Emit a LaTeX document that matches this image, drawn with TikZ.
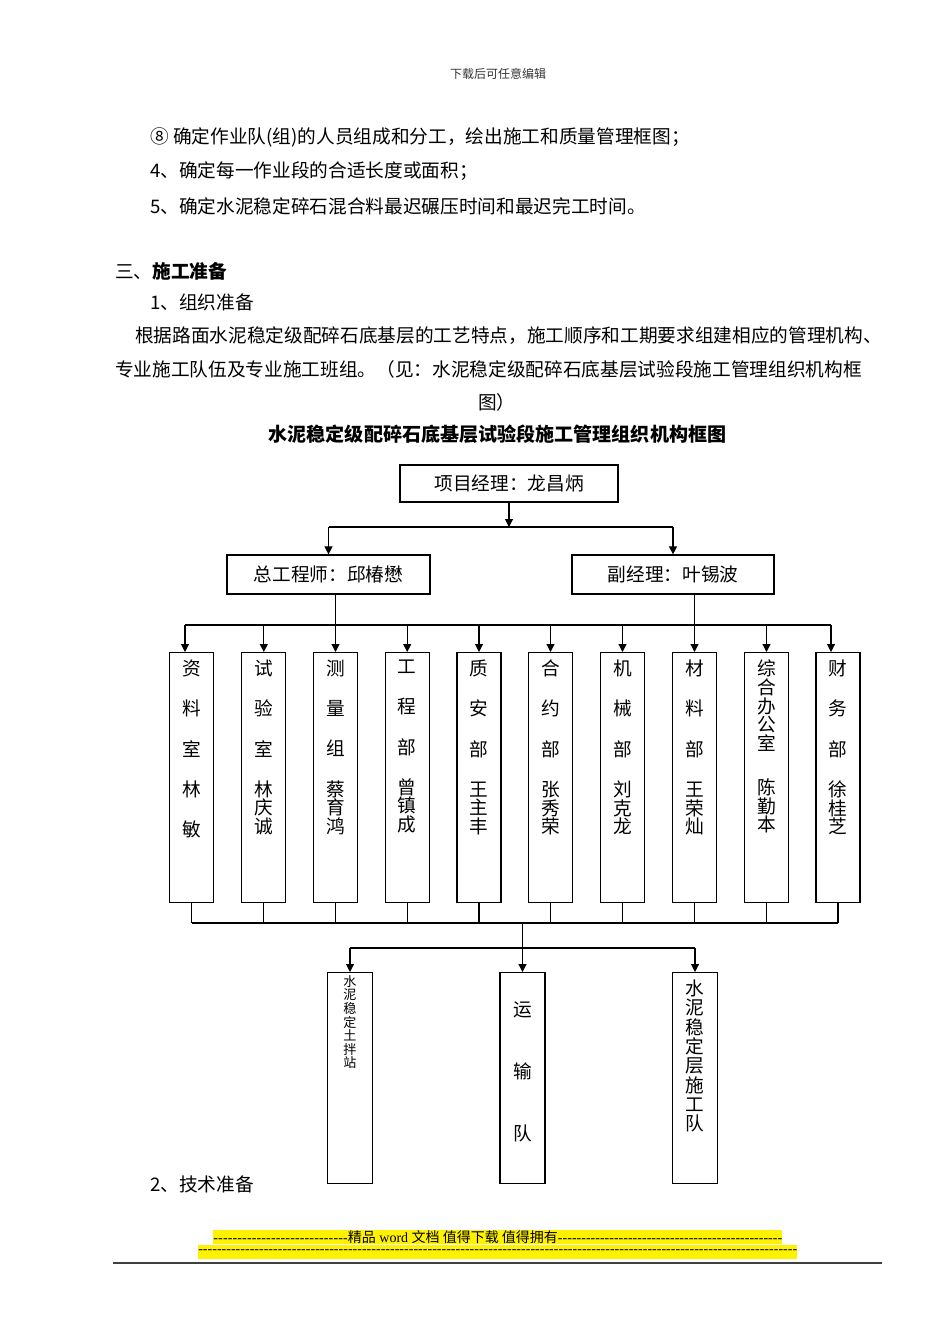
\documentclass[tikz,border=0pt]{standalone}
\usepackage{fontspec}
\setmainfont{Liberation Serif}
\newfontfamily\cjk{Noto Sans CJK SC}
\usetikzlibrary{arrows.meta, positioning, calc}

% column text inside the tall boxes: height, width, top gap, line skip, text
\newcommand{\colbody}[5]{\parbox[c][#1][t]{#2}{\centering
  \fontsize{14pt}{#4}\selectfont\lineskiplimit=-20pt\relax
  \vspace*{#3}#5}}
\newcommand{\sk}{\\[16.2pt]}

\begin{document}
\begin{tikzpicture}[
  x=0.75pt, y=-0.75pt,
  >={Triangle[length=6pt, width=6pt]},
  font={\cjk\fontsize{14pt}{16pt}\selectfont},
  % Node styles
  boss/.style={draw, line width=0.9pt, inner sep=0pt},
  dept/.style={draw, line width=0.9pt, inner sep=0pt, anchor=north},
  para/.style={anchor=west, inner sep=0pt},
  % Edge styles
  link/.style={line width=0.8pt},
  arr/.style={line width=0.8pt, ->}
]
\useasboundingbox (0,0) rectangle (950,1344);

% ------------------------------------------------------------
% Page text above the chart
% ------------------------------------------------------------
\node[inner sep=0pt, font={\cjk\fontsize{9pt}{10pt}\selectfont}, text=black!80] (hdr) at (498,74) {下载后可任意编辑};

\node[para] (l8) at (150,137) {⑧ 确定作业队(组)的人员组成和分工，绘出施工和质量管理框图；};
\node[para] (l4) at (150,171) {4、确定每一作业段的合适长度或面积；};
\node[para] (l5) at (150,206) {5、确定水泥稳定碎石混合料最迟碾压时间和最迟完工时间。};

\node[para] (sec3) at (115,271) {三、{\bfseries 施工准备}};
\node[para] (sub1) at (150,302) {1、组织准备};
\node[para] (txt1) at (135,336) {根据路面水泥稳定级配碎石底基层的工艺特点，施工顺序和工期要求组建相应的管理机构、};
\node[para] (txt2) at (115,369) {专业施工队伍及专业施工班组。（见：水泥稳定级配碎石底基层试验段施工管理组织机构框};
\node[para] (txt3) at (478,402) {图）};

% chart title
\node[inner sep=0pt, font={\cjk\bfseries\fontsize{14.3pt}{16pt}\selectfont}] (title) at (497.5,434) {水泥稳定级配碎石底基层试验段施工管理组织机构框图};

% =========================
% Level 1: manager + deputies
% =========================
\node[boss, minimum width=163.5pt, minimum height=27.75pt] (pm) at (509,483.5) {项目经理：龙昌炳};
\node[boss, minimum width=152.25pt, minimum height=29.25pt] (ce) at (328.5,574.5) {总工程师：邱椿懋};
\node[boss, minimum width=151.5pt, minimum height=29.25pt] (dm) at (673,574.5) {副经理：叶锡波};

\coordinate (j1) at (507,527);
\draw[arr]  (pm.south) -- (pm.south |- j1);
\draw[link] (ce.north |- j1) -- (dm.north |- j1);
\draw[arr]  (ce.north |- j1) -- (ce.north);
\draw[arr]  (dm.north |- j1) -- (dm.north);

% =========================
% Level 2: ten departments
% =========================
\node[dept] (dep1)  at (191.5,652) {\colbody{187.5pt}{33pt}{5.5pt}{14pt}{资\sk 料\sk 室\sk 林\sk 敏}};
\node[dept] (dep2)  at (263.8,652) {\colbody{187.5pt}{33pt}{5.5pt}{14pt}{试\sk 验\sk 室\sk 林\\庆\\诚}};
\node[dept] (dep3)  at (335.5,652) {\colbody{187.5pt}{33pt}{5.5pt}{14pt}{测\sk 量\sk 组\sk 蔡\\育\\鸿}};
\node[dept] (dep4)  at (407.2,652) {\colbody{187.5pt}{33pt}{5.5pt}{14pt}{工\sk 程\sk 部\sk 曾\\镇\\成}};
\node[dept] (dep5)  at (479,652)   {\colbody{187.5pt}{33pt}{5.5pt}{14pt}{质\sk 安\sk 部\sk 王\\主\\丰}};
\node[dept] (dep6)  at (550.5,652) {\colbody{187.5pt}{33pt}{5.5pt}{14pt}{合\sk 约\sk 部\sk 张\\秀\\荣}};
\node[dept] (dep7)  at (622.5,652) {\colbody{187.5pt}{33pt}{5.5pt}{14pt}{机\sk 械\sk 部\sk 刘\\克\\龙}};
\node[dept] (dep8)  at (694.5,652) {\colbody{187.5pt}{33pt}{5.5pt}{14pt}{材\sk 料\sk 部\sk 王\\荣\\灿}};
\node[dept] (dep9)  at (766.5,652) {\colbody{187.5pt}{33pt}{5.5pt}{14pt}{综\\合\\办\\公\\室\\[19pt]陈\\勤\\本}};
\node[dept] (dep10) at (838,652)   {\colbody{187.5pt}{33pt}{5.5pt}{14pt}{财\sk 务\sk 部\sk 徐\\桂\\芝}};

% distribution bus
\coordinate (busL) at (185,625);
\coordinate (busR) at (831,625);
\draw[link] (busL) -- (busR);
\draw[arr] (busL) -- (busL |- dep1.north);
\draw[arr] (dep2.north |- busL) -- (dep2.north);
\draw[arr] (ce.south -| dep3.north) -- (dep3.north);
\draw[arr] (dep4.north |- busL) -- (dep4.north);
\draw[arr] (dep5.north |- busL) -- (dep5.north);
\draw[arr] (dep6.north |- busL) -- (dep6.north);
\draw[arr] (dep7.north |- busL) -- (dep7.north);
\draw[arr] (dm.south -| dep8.north) -- (dep8.north);
\draw[arr] (dep9.north |- busL) -- (dep9.north);
\draw[arr] (busR) -- (busR |- dep10.north);

% =========================
% Level 3: site teams
% =========================
\node[dept] (team1) at (350,972)   {\colbody{158.25pt}{33.75pt}{2pt}{10.2pt}{{\fontsize{9.8pt}{10.2pt}\selectfont 水\\泥\\稳\\定\\土\\拌\\站}}};
\node[dept] (team2) at (522.5,972) {\colbody{158.25pt}{33.75pt}{22pt}{14pt}{运\\[32.6pt]输\\[32.6pt]队}};
\node[dept] (team3) at (695,972)   {\colbody{158.25pt}{33.75pt}{5.5pt}{14.5pt}{水\\泥\\稳\\定\\层\\施\\工\\队}};

% gathering bus under the departments
\coordinate (gather) at (522.5,923);
\draw[link] (dep1.south)  -- (dep1.south |- gather);
\draw[link] (dep2.south)  -- (dep2.south |- gather);
\draw[link] (dep3.south)  -- (dep3.south |- gather);
\draw[link] (dep4.south)  -- (dep4.south |- gather);
\draw[link] (dep5.south)  -- (dep5.south |- gather);
\draw[link] (dep6.south)  -- (dep6.south |- gather);
\draw[link] (dep7.south)  -- (dep7.south |- gather);
\draw[link] (dep8.south)  -- (dep8.south |- gather);
\draw[link] (dep9.south)  -- (dep9.south |- gather);
\draw[link] (dep10.south) -- (dep10.south |- gather);
\draw[link] (dep1.south |- gather) -- (dep10.south |- gather);

\coordinate (split) at (522.5,948);
\draw[arr]  (gather) -- (team2.north);
\draw[link] (team1.north |- split) -- (team3.north |- split);
\draw[arr]  (team1.north |- split) -- (team1.north);
\draw[arr]  (team3.north |- split) -- (team3.north);

% ------------------------------------------------------------
% Below the chart + page footer
% ------------------------------------------------------------
\node[para] (sub2) at (150,1184) {2、技术准备};

\node[para, fill=yellow, minimum height=11pt, font={\fontsize{10.5pt}{11pt}\selectfont}] (ft1) at (213,1237)
  {\hbox to 426.75pt{\xleaders\hbox{-}\hskip 101pt{\cjk 精品} word {\cjk 文档 值得下载 值得拥有}\xleaders\hbox{-}\hfill}};
\node[para, fill=yellow, minimum height=11pt, font={\fontsize{10.5pt}{11pt}\selectfont}] (ft2) at (198,1252)
  {\hbox to 449.25pt{\xleaders\hbox{-}\hfill}};
\draw[line width=1.5pt, black!75] (113,1263) -- (882,1263);

\end{tikzpicture}
\end{document}
